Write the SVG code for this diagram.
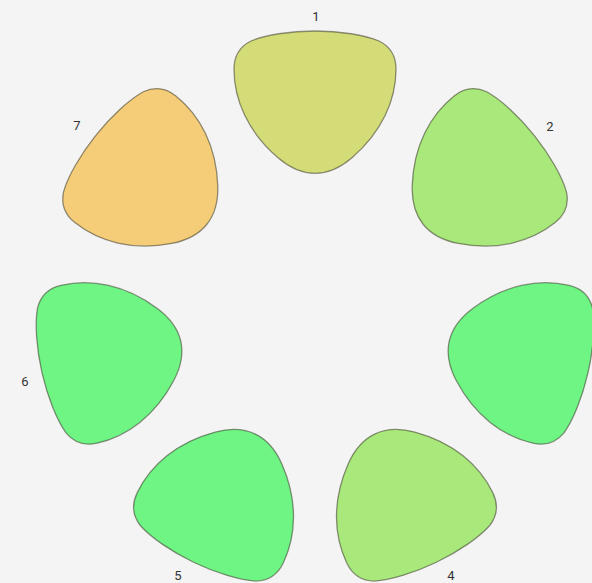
<svg xmlns="http://www.w3.org/2000/svg" width="592" height="583" viewBox="0 0 592 583">
<defs>
<path id="pick" d="M315,31 C340,31 365,35 379,41 C391,47 396,57 396,69 C396,100 382,132 352,157.7 C340,168 328,173.3 315,173.3 C302,173.3 290,168 278,157.7 C248,132 234,100 234,69 C234,57 239,47 251,41 C265,35 290,31 315,31 Z"/>
</defs>
<style>
.node use{stroke:#4a4a3a;stroke-opacity:0.6;stroke-width:1.3}
.lbl{font-family:Roboto,"Liberation Sans",Arial,sans-serif;font-size:13px;fill:#333;text-anchor:middle}
</style>
<rect width="592" height="583" fill="#f4f4f4"/>
<g id="connectors"></g>
<g id="node1" class="node"><use href="#pick" fill="#d4dc78"/><text class="lbl" x="316" y="21">1</text></g>
<g id="node2" class="node"><use href="#pick" fill="#a9e87a" transform="translate(-1.9 -2) rotate(51.43 315 314)"/><text class="lbl" x="550" y="131">2</text></g>
<g id="node3" class="node"><use href="#pick" fill="#6ef584" transform="translate(-2.9 -4.3) rotate(102.86 315 314)"/></g>
<g id="node4" class="node"><use href="#pick" fill="#a9e87a" transform="translate(-1.4 -6.7) rotate(154.29 315 314)"/><text class="lbl" x="451" y="580">4</text></g>
<g id="node5" class="node"><use href="#pick" fill="#6ef584" transform="translate(1.4 -6.7) rotate(205.71 315 314)"/><text class="lbl" x="178" y="580">5</text></g>
<g id="node6" class="node"><use href="#pick" fill="#6ef584" transform="translate(2.9 -4.3) rotate(257.14 315 314)"/><text class="lbl" x="25" y="386">6</text></g>
<g id="node7" class="node"><use href="#pick" fill="#f5cd78" transform="translate(1.9 -2) rotate(308.57 315 314)"/><text class="lbl" x="77" y="130">7</text></g>
</svg>
